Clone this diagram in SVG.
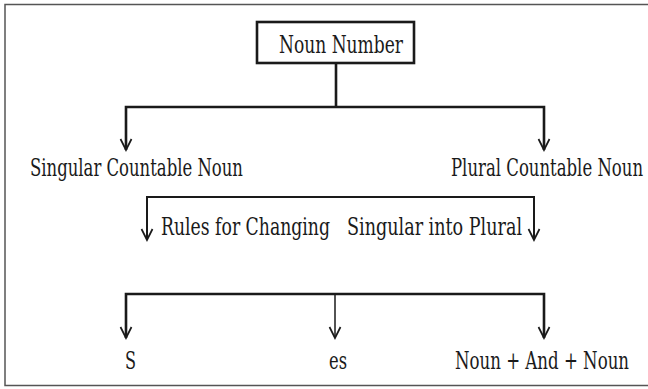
<svg xmlns="http://www.w3.org/2000/svg" width="648" height="389" viewBox="0 0 648 389">
<style>
.t{font-family:"DejaVu Serif Condensed","DejaVu Serif","Liberation Serif",serif;font-stretch:condensed;font-size:24px;fill:#1a1a1a}
.c{fill:none;stroke:#1a1a1a;stroke-linejoin:miter}
.thick{stroke-width:2.6}
.mid{stroke-width:2}
.thin{stroke-width:1.5}
</style>
<defs>
<marker id="ah" markerUnits="userSpaceOnUse" markerWidth="20" markerHeight="20" refX="0" refY="0" orient="auto-start-reverse" overflow="visible">
<path d="M-11,-5.5 L0,0 L-11,5.5" fill="none" stroke="#1a1a1a" stroke-width="1.7"/>
</marker>
</defs>
<path d="M650,4.5 H5 V385.5 H650" fill="none" stroke="#555" stroke-width="1.5"/>
<g id="connectors">
<path class="c thick" d="M336,63 V107"/>
<path class="c thick" d="M126,150 V107 H544 V150" marker-start="url(#ah)" marker-end="url(#ah)"/>
<path class="c mid" d="M147,240 V197 H534 V240" marker-start="url(#ah)" marker-end="url(#ah)"/>
<path class="c thick" d="M126,338 V294 H544 V338" marker-start="url(#ah)" marker-end="url(#ah)"/>
<path class="c thin" d="M335,294 V338" marker-end="url(#ah)"/>
</g>
<g id="noun-number">
<rect x="257" y="22" width="157" height="41" fill="#fff" stroke="#1a1a1a" stroke-width="2.6"/>
<text class="t" transform="translate(279,53) scale(0.72,1)" textLength="172.2" lengthAdjust="spacingAndGlyphs">Noun Number</text>
</g>
<g id="singular">
<text class="t" transform="translate(30,176) scale(0.72,1)" textLength="295.8" lengthAdjust="spacingAndGlyphs">Singular Countable Noun</text>
</g>
<g id="plural">
<text class="t" transform="translate(451,176) scale(0.72,1)" textLength="266.7" lengthAdjust="spacingAndGlyphs">Plural Countable Noun</text>
</g>
<g id="rules">
<text class="t" transform="translate(161,235) scale(0.72,1)" textLength="234.7" lengthAdjust="spacingAndGlyphs">Rules for Changing</text>
<text class="t" transform="translate(347,235) scale(0.72,1)" textLength="243.1" lengthAdjust="spacingAndGlyphs">Singular into Plural</text>
</g>
<g id="s">
<text class="t" transform="translate(125,369) scale(0.72,1)" textLength="15.3" lengthAdjust="spacingAndGlyphs">S</text>
</g>
<g id="es">
<text class="t" transform="translate(329,369) scale(0.72,1)" textLength="25" lengthAdjust="spacingAndGlyphs">es</text>
</g>
<g id="noun-and-noun">
<text class="t" transform="translate(455,369) scale(0.72,1)" textLength="241.7" lengthAdjust="spacingAndGlyphs">Noun + And + Noun</text>
</g>
</svg>
